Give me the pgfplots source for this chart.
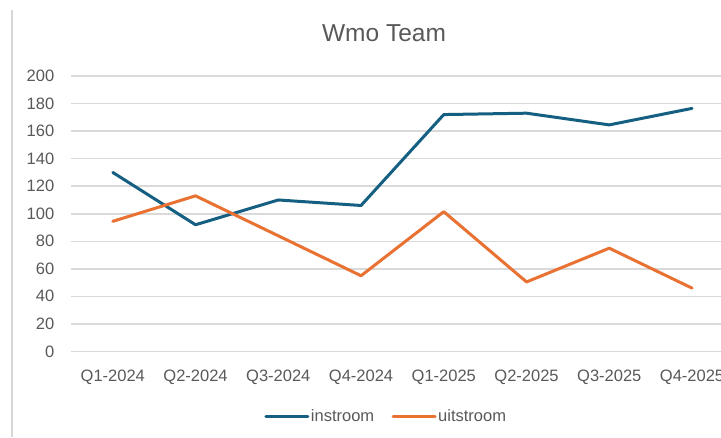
\documentclass[border=0pt]{standalone}
\usepackage{pgfplots}
\pgfplotsset{compat=1.18}
\usepackage{fontspec}
\setmainfont{Liberation Sans}
\definecolor{cblue}{HTML}{156082}
\definecolor{corange}{HTML}{E97132}
\definecolor{ctext}{HTML}{595959}
\definecolor{cgrid}{HTML}{D9D9D9}
\begin{document}
\begin{tikzpicture}
\useasboundingbox (0pt,0pt) rectangle (721pt,437pt);
\fill[white] (0pt,0pt) rectangle (721pt,437pt);
\draw[color={rgb,255:red,215;green,215;blue,215}, line width=2pt] (12pt,0pt) -- (12pt,427pt);
\node[anchor=base, text=ctext, font=\fontsize{24.5}{28}\selectfont, inner sep=0pt] at (384pt,395.3pt) {Wmo Team};
\begin{axis}[
  at={(71.4pt,85.5pt)}, anchor=south west,
  scale only axis, width=649.6pt, height=275.5pt,
  xmin=-0.5, xmax=7.35, ymin=0, ymax=200,
  xtick={0,1,2,3,4,5,6,7},
  xticklabels={Q1-2024,Q2-2024,Q3-2024,Q4-2024,Q1-2025,Q2-2025,Q3-2025,Q4-2025},
  ytick={0,20,40,60,80,100,120,140,160,180,200},
  ymajorgrids, grid style={cgrid, line width=1.6pt},
  axis line style={draw=none}, major tick length=0pt,
  /pgf/number format/assume math mode=true,
  tick label style={text=ctext, font=\fontsize{16.5}{19}\selectfont, inner sep=0pt},
  xticklabel style={anchor=base, yshift=-30.2pt},
  yticklabel style={anchor=base east, xshift=-17pt, yshift=-5.5pt},
  clip=false,
  legend columns=2,
  legend style={at={(0.4843,-0.2367)}, anchor=center, draw=none, fill=none,
    font=\fontsize{16.5}{19}\selectfont, text=ctext, inner sep=0pt,
    nodes={inner sep=1.5pt}, /tikz/every even column/.append style={column sep=16pt}},
  legend image code/.code={\draw[#1] (0pt,0pt) -- (42pt,0pt);},
]
\addplot[cblue, line width=3pt, line join=round, line cap=round] coordinates {
  (0,130) (1,92) (2,110) (3,106) (4,172) (5,173) (6,164.5) (7,176.5)};
\addlegendentry{instroom}
\addplot[corange, line width=3pt, line join=round, line cap=round] coordinates {
  (0,94.5) (1,113) (2,84) (3,55) (4,101.5) (5,50.5) (6,75) (7,46)};
\addlegendentry{uitstroom}
\end{axis}
\end{tikzpicture}
\end{document}
